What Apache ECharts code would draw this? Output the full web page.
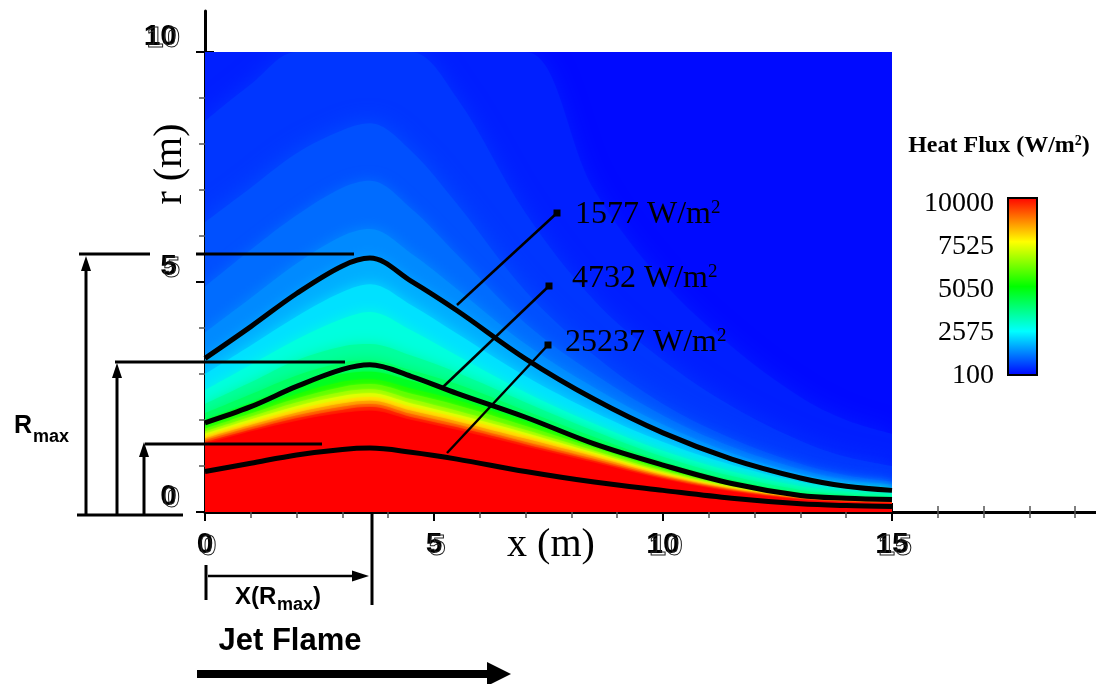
<!DOCTYPE html>
<html><head><meta charset="utf-8">
<script src="https://cdn.jsdelivr.net/npm/echarts@6/dist/echarts.min.js"></script>
<style>html,body{margin:0;padding:0;background:#fff}#c{width:1096px;height:684px}</style>
</head><body><div id="c"></div>
<script>
// ---- data ----
const xs = [0, 1, 2, 3, 3.6, 4.5, 5.5, 7, 8.5, 10, 11.5, 13, 14, 15];           // x (m)
// radius r (m) of each heat-flux iso-level along x
const r100   = [10, 10, 10, 10, 10, 10, 10, 10, 10, 10, 10, 10, 10, 10];
const r300   = [10, 10, 10, 10, 10, 10, 10, 10, 7.0, 5.0, 3.6, 2.5, 2.0, 1.7];
const r500   = [8.5, 9.3, 10, 10, 10, 10, 9.0, 6.5, 4.6, 3.3, 2.3, 1.55, 1.2, 1.0];
const r750   = [6.3, 7.05, 7.8, 8.3, 8.45, 7.85, 6.7, 4.8, 3.4, 2.35, 1.6, 1.05, 0.8, 0.66];
const r1000  = [4.9, 5.7, 6.45, 7.05, 7.2, 6.6, 5.6, 4.1, 3.0, 2.1, 1.42, 0.93, 0.7, 0.6];
const r1300  = [3.9, 4.65, 5.4, 6.0, 6.15, 5.62, 4.85, 3.65, 2.7, 1.9, 1.28, 0.83, 0.63, 0.53];
const r1577  = [3.34, 4.03, 4.75, 5.35, 5.52, 5.02, 4.38, 3.33, 2.45, 1.72, 1.15, 0.74, 0.56, 0.47];
const r2000  = [3.0, 3.62, 4.25, 4.78, 4.95, 4.5, 3.88, 2.95, 2.17, 1.52, 1.02, 0.65, 0.5, 0.44];
const r2575  = [2.65, 3.2, 3.75, 4.2, 4.35, 3.95, 3.4, 2.6, 1.92, 1.33, 0.88, 0.56, 0.44, 0.39];
const r3200  = [2.35, 2.82, 3.3, 3.6, 3.65, 3.4, 3.03, 2.38, 1.76, 1.2, 0.78, 0.48, 0.38, 0.34];
const r3800  = [2.15, 2.56, 2.97, 3.25, 3.3, 3.08, 2.78, 2.2, 1.63, 1.1, 0.7, 0.42, 0.34, 0.3];
const r4400  = [2.0, 2.37, 2.74, 3.0, 3.05, 2.85, 2.58, 2.06, 1.53, 1.03, 0.64, 0.38, 0.31, 0.28];
const r5050  = [1.88, 2.22, 2.56, 2.83, 2.88, 2.68, 2.43, 1.96, 1.45, 0.97, 0.59, 0.35, 0.29, 0.26];
const r5700  = [1.81, 2.14, 2.47, 2.72, 2.78, 2.57, 2.32, 1.87, 1.39, 0.93, 0.57, 0.34, 0.28, 0.25];
const r6300  = [1.75, 2.07, 2.38, 2.61, 2.67, 2.45, 2.2, 1.78, 1.33, 0.89, 0.56, 0.33, 0.27, 0.24];
const r6900  = [1.7, 2.01, 2.3, 2.52, 2.58, 2.36, 2.12, 1.72, 1.29, 0.86, 0.54, 0.32, 0.26, 0.23];
const r7525  = [1.65, 1.95, 2.23, 2.44, 2.5, 2.28, 2.05, 1.66, 1.25, 0.83, 0.52, 0.31, 0.25, 0.22];
const r8100  = [1.6, 1.89, 2.16, 2.36, 2.42, 2.2, 1.97, 1.59, 1.2, 0.8, 0.5, 0.3, 0.24, 0.21];
const r8700  = [1.56, 1.84, 2.1, 2.29, 2.35, 2.13, 1.9, 1.52, 1.15, 0.77, 0.48, 0.29, 0.23, 0.21];
const r9300  = [1.52, 1.79, 2.04, 2.22, 2.28, 2.06, 1.84, 1.47, 1.11, 0.74, 0.46, 0.28, 0.22, 0.2];
const r10000 = [1.48, 1.75, 1.98, 2.15, 2.2, 2.0, 1.78, 1.42, 1.07, 0.71, 0.44, 0.27, 0.21, 0.19];
const levelValues = [100, 300, 500, 750, 1000, 1300, 1577, 2000, 2575, 3200, 3800, 4400, 5050, 5700, 6300, 6900, 7525, 8100, 8700, 9300, 10000];
const levelRadii  = [r100, r300, r500, r750, r1000, r1300, r1577, r2000, r2575, r3200, r3800, r4400, r5050, r5700, r6300, r6900, r7525, r8100, r8700, r9300, r10000];
// labelled contour lines
const contour1577  = r1577;
const contour4732  = [1.94, 2.29, 2.73, 3.1, 3.2, 2.95, 2.58, 2.06, 1.48, 1.02, 0.62, 0.36, 0.3, 0.27];
const contour25237 = [0.88, 1.06, 1.24, 1.36, 1.39, 1.3, 1.15, 0.88, 0.65, 0.47, 0.3, 0.18, 0.14, 0.12];
const contourNames = ['1577 W/m', '4732 W/m', '25237 W/m'];
// tick labels
const xTickLabels = [0, 5, 10, 15];
const yTickLabels = [0, 5, 10];
const xMinorTicks = [1, 2, 3, 4, 6, 7, 8, 9, 11, 12, 13, 14, 16, 17, 18, 19];
const yMinorTicks = [1, 2, 3, 4, 6, 7, 8, 9];
const legendLabels = ['10000', '7525', '5050', '2575', '100'];

// ---- styling helpers ----
const rainbow = [[0, [0, 0, 255]], [0.25, [0, 255, 255]], [0.5, [0, 255, 0]], [0.75, [255, 255, 0]], [1, [255, 0, 0]]];
function fluxColor(v) {
  const t = Math.max(0, Math.min(1, (v - 100) / 9900));
  for (let k = 1; k < rainbow.length; k++) {
    if (t <= rainbow[k][0] + 1e-9) {
      const t0 = rainbow[k - 1][0], c0 = rainbow[k - 1][1], t1 = rainbow[k][0], c1 = rainbow[k][1];
      const f = (t - t0) / (t1 - t0);
      return 'rgb(' + c0.map((a, i) => Math.round(a + (c1[i] - a) * f)).join(',') + ')';
    }
  }
  return 'rgb(255,0,0)';
}
const SMOOTH = 0.35;
const series = [];
levelValues.forEach((lv, i) => {
  const mid = i < levelValues.length - 1 ? (lv + levelValues[i + 1]) / 2 : lv;
  const col = fluxColor(mid);
  series.push({
    type: 'line', xAxisIndex: 0, yAxisIndex: 0, silent: true, animation: false,
    data: xs.map((x, j) => [x, levelRadii[i][j]]),
    smooth: SMOOTH, symbol: 'none', showSymbol: false,
    lineStyle: { width: 0, opacity: 0 },
    areaStyle: { color: col, opacity: 1, origin: 'start', shadowColor: col, shadowBlur: lv < 1000 ? 22 : (lv < 4400 ? 14 : 3) },
    z: 1
  });
});
[contour1577, contour4732, contour25237].forEach((c, i) => {
  series.push({
    type: 'line', name: contourNames[i], xAxisIndex: 0, yAxisIndex: 0, silent: true, animation: false,
    data: xs.map((x, j) => [x, c[j]]),
    smooth: SMOOTH, symbol: 'none', showSymbol: false,
    lineStyle: { color: '#000', width: 5 },
    z: 3
  });
});

const SANS = 'Liberation Sans, Arial, sans-serif';
const SERIF = 'Liberation Serif, Times New Roman, serif';
const XMAX = 891 / 45.8, YMAX = 501 / 46;
const noLine = { show: false, onZero: false };

const chart = echarts.init(document.getElementById('c'), null, { renderer: 'canvas' });

const blk = { stroke: '#000', lineWidth: 3 };
const supRich = (size, supSize) => ({
  a: { fontSize: size, fontFamily: SERIF, fill: '#000', lineHeight: size },
  b: { fontSize: supSize, fontFamily: SERIF, fill: '#000', verticalAlign: 'top', lineHeight: 8 }
});
const txt = (x, y, text, font) => ({ type: 'text', x: x, y: y, style: { text: text, font: font, fill: '#000', verticalAlign: 'middle' } });
const graphic = [
  // R_max reference lines
  { type: 'line', shape: { x1: 79, y1: 254, x2: 150, y2: 254 }, style: blk },
  { type: 'line', shape: { x1: 196, y1: 254, x2: 354, y2: 254 }, style: blk },
  { type: 'line', shape: { x1: 115, y1: 362, x2: 345, y2: 362 }, style: blk },
  { type: 'line', shape: { x1: 145, y1: 444, x2: 322, y2: 444 }, style: blk },
  { type: 'line', shape: { x1: 77, y1: 515, x2: 183, y2: 515 }, style: blk },
  { type: 'line', shape: { x1: 86, y1: 515, x2: 86, y2: 268 }, style: blk },
  { type: 'polygon', shape: { points: [[86, 256], [81, 271], [91, 271]] }, style: { fill: '#000' } },
  { type: 'line', shape: { x1: 117, y1: 515, x2: 117, y2: 376 }, style: blk },
  { type: 'polygon', shape: { points: [[117, 363], [112, 378], [122, 378]] }, style: { fill: '#000' } },
  { type: 'line', shape: { x1: 144, y1: 515, x2: 144, y2: 454 }, style: blk },
  { type: 'polygon', shape: { points: [[144, 442], [139, 457], [149, 457]] }, style: { fill: '#000' } },
  txt(14, 426, 'R', 'bold 25px ' + SANS),
  txt(33, 437, 'max', 'bold 18px ' + SANS),
  // X(R_max)
  { type: 'line', shape: { x1: 372, y1: 513, x2: 372, y2: 605 }, style: blk },
  { type: 'line', shape: { x1: 206, y1: 565, x2: 206, y2: 600 }, style: blk },
  { type: 'line', shape: { x1: 208, y1: 576, x2: 355, y2: 576 }, style: { stroke: '#000', lineWidth: 2.5 } },
  { type: 'polygon', shape: { points: [[369, 576], [352, 570.5], [352, 581.5]] }, style: { fill: '#000' } },
  txt(235, 597, 'X(R', 'bold 24px ' + SANS),
  txt(277, 605, 'max', 'bold 18px ' + SANS),
  txt(313, 597, ')', 'bold 24px ' + SANS),
  // Jet Flame
  { type: 'text', x: 290, y: 641, style: { text: 'Jet Flame', font: 'bold 31px ' + SANS, fill: '#000', align: 'center', verticalAlign: 'middle' } },
  { type: 'rect', shape: { x: 197, y: 670, width: 293, height: 8 }, style: { fill: '#000' } },
  { type: 'polygon', shape: { points: [[511, 674], [487, 662], [487, 686]] }, style: { fill: '#000' } },
  // axis titles
  { type: 'text', x: 170, y: 164, rotation: Math.PI / 2, style: { text: 'r (m)', font: '40px ' + SERIF, fill: '#000', align: 'center', verticalAlign: 'middle' } },
  { type: 'text', x: 551, y: 545, style: { text: 'x (m)', font: '40px ' + SERIF, fill: '#000', align: 'center', verticalAlign: 'middle' } },
  // contour leader lines
  { type: 'line', shape: { x1: 457, y1: 305, x2: 557, y2: 213 }, style: { stroke: '#000', lineWidth: 2.5 } },
  { type: 'line', shape: { x1: 443, y1: 387, x2: 549, y2: 286 }, style: { stroke: '#000', lineWidth: 2.5 } },
  { type: 'line', shape: { x1: 447, y1: 453, x2: 548, y2: 345 }, style: { stroke: '#000', lineWidth: 2.5 } },
  { type: 'rect', shape: { x: 553.5, y: 209.5, width: 7, height: 7 }, style: { fill: '#000' } },
  { type: 'rect', shape: { x: 545.5, y: 282.5, width: 7, height: 7 }, style: { fill: '#000' } },
  { type: 'rect', shape: { x: 544.5, y: 341.5, width: 7, height: 7 }, style: { fill: '#000' } },
  // contour labels
  { type: 'text', x: 575, y: 215, style: { text: '{a|' + contourNames[0] + '}{b|2}', verticalAlign: 'middle', rich: supRich(32, 19) } },
  { type: 'text', x: 572, y: 279, style: { text: '{a|' + contourNames[1] + '}{b|2}', verticalAlign: 'middle', rich: supRich(32, 19) } },
  { type: 'text', x: 565, y: 343, style: { text: '{a|' + contourNames[2] + '}{b|2}', verticalAlign: 'middle', rich: supRich(32, 19) } },
  // legend
  { type: 'text', x: 999, y: 146, style: { text: '{a|Heat Flux (W/m}{b|2}{a|)}', align: 'center', verticalAlign: 'middle',
      rich: { a: { fontSize: 24, fontWeight: 'bold', fontFamily: SERIF, fill: '#000', lineHeight: 24 },
              b: { fontSize: 14, fontWeight: 'bold', fontFamily: SERIF, fill: '#000', verticalAlign: 'top', lineHeight: 8 } } } },
  { type: 'rect', shape: { x: 1008, y: 198, width: 29, height: 177 },
    style: { stroke: '#000', lineWidth: 2,
      fill: new echarts.graphic.LinearGradient(0, 0, 0, 1, [
        { offset: 0, color: fluxColor(10000) }, { offset: 0.125, color: fluxColor(8762) },
        { offset: 0.25, color: fluxColor(7525) }, { offset: 0.375, color: fluxColor(6287) },
        { offset: 0.5, color: fluxColor(5050) }, { offset: 0.625, color: fluxColor(3812) },
        { offset: 0.75, color: fluxColor(2575) }, { offset: 0.875, color: fluxColor(1337) },
        { offset: 1, color: fluxColor(100) }]) } }
].concat(legendLabels.map((t, i) => ({
  type: 'text', x: 994, y: 204 + i * 43,
  style: { text: t, font: '28px ' + SERIF, fill: '#000', align: 'right', verticalAlign: 'middle' }
}))).map(g => Object.assign({ z: 10 }, g));

const lblBase = { fontSize: 30, fontWeight: 'bold', fontFamily: SANS };
const ghost = { color: 'rgba(0,0,0,0)', textBorderColor: '#222', textBorderWidth: 1 };
const hidden = (extra) => Object.assign({ type: 'value', axisLine: noLine, splitLine: { show: false }, axisTick: { show: false }, axisLabel: { show: false } }, extra);

chart.setOption({
  animation: false,
  backgroundColor: '#fff',
  grid: [
    { left: 205, top: 52, width: 687, height: 460, outerBoundsMode: 'none', containLabel: false },
    { left: 205, top: 11, width: 891, height: 501, outerBoundsMode: 'none', containLabel: false }
  ],
  xAxis: [
    { gridIndex: 0, type: 'value', min: 0, max: 15, show: false },
    { gridIndex: 1, type: 'value', position: 'bottom', min: 0, max: XMAX,
      axisLine: { show: true, onZero: false, lineStyle: { color: '#000', width: 3 } },
      axisTick: { show: false }, splitLine: { show: false },
      axisLabel: Object.assign({ customValues: xTickLabels, color: '#000', margin: 18 }, lblBase) },
    hidden({ gridIndex: 1, position: 'bottom', min: 0, max: XMAX, offset: -6,
      axisTick: { show: true, customValues: xMinorTicks, length: 12, lineStyle: { color: '#555', width: 1.5 } } }),
    hidden({ gridIndex: 1, position: 'bottom', min: 0, max: XMAX, offset: -9,
      axisTick: { show: true, customValues: xTickLabels, length: 18, lineStyle: { color: '#000', width: 2 } } }),
    hidden({ gridIndex: 1, position: 'bottom', min: 0, max: XMAX,
      axisLabel: Object.assign({ show: true, customValues: xTickLabels, margin: 20, padding: [0, 0, 0, 6] }, lblBase, ghost) })
  ],
  yAxis: [
    { gridIndex: 0, type: 'value', min: 0, max: 10, show: false },
    { gridIndex: 1, type: 'value', position: 'left', min: 0, max: YMAX,
      axisLine: { show: true, onZero: false, lineStyle: { color: '#000', width: 3 } },
      axisTick: { show: false }, splitLine: { show: false },
      axisLabel: Object.assign({ customValues: yTickLabels, color: '#000', margin: 28, verticalAlign: 'bottom', lineHeight: 30 }, lblBase) },
    hidden({ gridIndex: 1, position: 'left', min: 0, max: YMAX, offset: -6,
      axisTick: { show: true, customValues: yMinorTicks, length: 12, lineStyle: { color: '#555', width: 1.5 } } }),
    hidden({ gridIndex: 1, position: 'left', min: 0, max: YMAX, offset: -9,
      axisTick: { show: true, customValues: yTickLabels, length: 18, lineStyle: { color: '#000', width: 2 } } }),
    hidden({ gridIndex: 1, position: 'left', min: 0, max: YMAX,
      axisLabel: Object.assign({ show: true, customValues: yTickLabels, margin: 25, verticalAlign: 'bottom', lineHeight: 26 }, lblBase, ghost) })
  ],
  series: series,
  graphic: graphic
});
</script>
</body></html>
